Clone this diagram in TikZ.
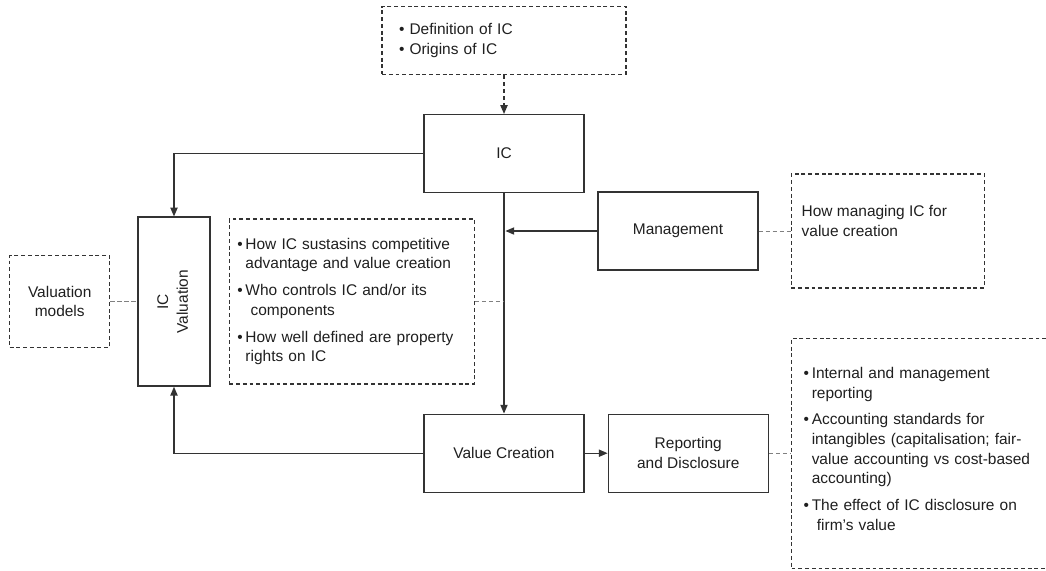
\documentclass[tikz,border=0pt]{standalone}
\usepackage{fontspec}
\setmainfont{Liberation Sans}
\usepackage{graphicx}
\usetikzlibrary{positioning, arrows.meta}

\begin{document}
\begin{tikzpicture}[>={Triangle[length=2.2mm,width=1.8mm]},
    every node/.style={font=\fontsize{11}{14}\selectfont, text=black!88},
    block/.style={draw=black!80, line width=0.9pt, minimum width=4cm, minimum height=1.95cm, align=center},
    notebox/.style={draw=black!80, line width=0.9pt, dash pattern=on 2.8pt off 2pt},
    link/.style={draw=black!50, line width=0.7pt, dash pattern=on 3pt off 2pt},
    flow/.style={draw=black!80, line width=0.9pt, ->}]
    \useasboundingbox (0,0) rectangle (26.15,-14.25);

    % IC and Value Creation
    \node[block] (IC) at (12.6,-3.84) {IC};
    \node[block] (VC) at (12.6,-11.33) {Value Creation};

    % Definition box
    \node[notebox, above=0.975cm of IC, minimum width=6.1cm, minimum height=1.7cm,
          text width=5.25cm, inner xsep=0.42cm, align=left] (defbox)
        {\textbullet\ Definition of IC\\\textbullet\ Origins of IC};

    % IC Valuation
    \node[block, minimum width=1.8cm, minimum height=4.225cm] (ICval) at (4.35,-7.54)
        {\rotatebox{90}{\begin{tabular}{@{}c@{}}IC\\Valuation\end{tabular}}};
    \node[notebox, left=0.675cm of ICval, minimum width=2.5cm, minimum height=2.3cm,
          align=center] (valmod) {Valuation\\models};

    % Questions box
    \node[notebox, right=0.45cm of ICval, minimum width=6.125cm, minimum height=4.125cm,
          text width=5.725cm, inner xsep=0.2cm, align=left] (midbox)
        {\noindent\begin{tabular}{@{}l@{\hspace{2pt}}l@{}}
          \textbullet & How IC sustasins competitive\\
          & advantage and value creation\\[5pt]
          \textbullet & Who controls IC and/or its\\
          & \ components\\[5pt]
          \textbullet & How well defined are property\\
          & rights on IC
        \end{tabular}};

    % Management
    \node[block] (mgmt) at (16.95,-5.775) {Management};
    \node[notebox, right=0.8cm of mgmt, minimum width=4.825cm, minimum height=2.85cm] (mgmtbox) {};
    \node[anchor=north west, inner sep=0pt, align=left] (mgmttext)
        at ([xshift=0.27cm,yshift=-0.8cm]mgmtbox.north west)
        {How managing IC for\\value creation};

    % Reporting
    \node[block, right=0.575cm of VC] (rep) {Reporting\\and Disclosure};
    \node[notebox, right=0.55cm of rep, minimum width=6.55cm, minimum height=5.75cm,
          text width=5.95cm, inner xsep=0.3cm, align=left] (repbox)
        {\noindent\begin{tabular}{@{}l@{\hspace{2pt}}l@{}}
          \textbullet & Internal and management\\
          & reporting\\[5pt]
          \textbullet & Accounting standards for\\
          & intangibles (capitalisation; fair-\\
          & value accounting vs cost-based\\
          & accounting)\\[5pt]
          \textbullet & The effect of IC disclosure on\\
          & \ firm's value
        \end{tabular}\par\vspace{4pt}};

    % Arrows
    \draw[->, draw=black!80, line width=0.9pt, dash pattern=on 3pt off 2pt] (defbox) -- (IC);
    \draw[flow] (IC.west) -| (ICval.north);
    \draw[flow] (IC) -- (VC);
    \draw[flow, shorten >=1pt] (mgmt.west) -- (mgmt.west -| IC.south);
    \draw[flow] (VC.west) -| (ICval.south);
    \draw[flow] (VC) -- (rep);

    % Dashed links
    \draw[link] (valmod) -- (ICval);
    \draw[link] (midbox.east) -- (midbox.east -| IC.south);
    \draw[link] (mgmt) -- (mgmtbox);
    \draw[link] (rep) -- (repbox);
\end{tikzpicture}
\end{document}
